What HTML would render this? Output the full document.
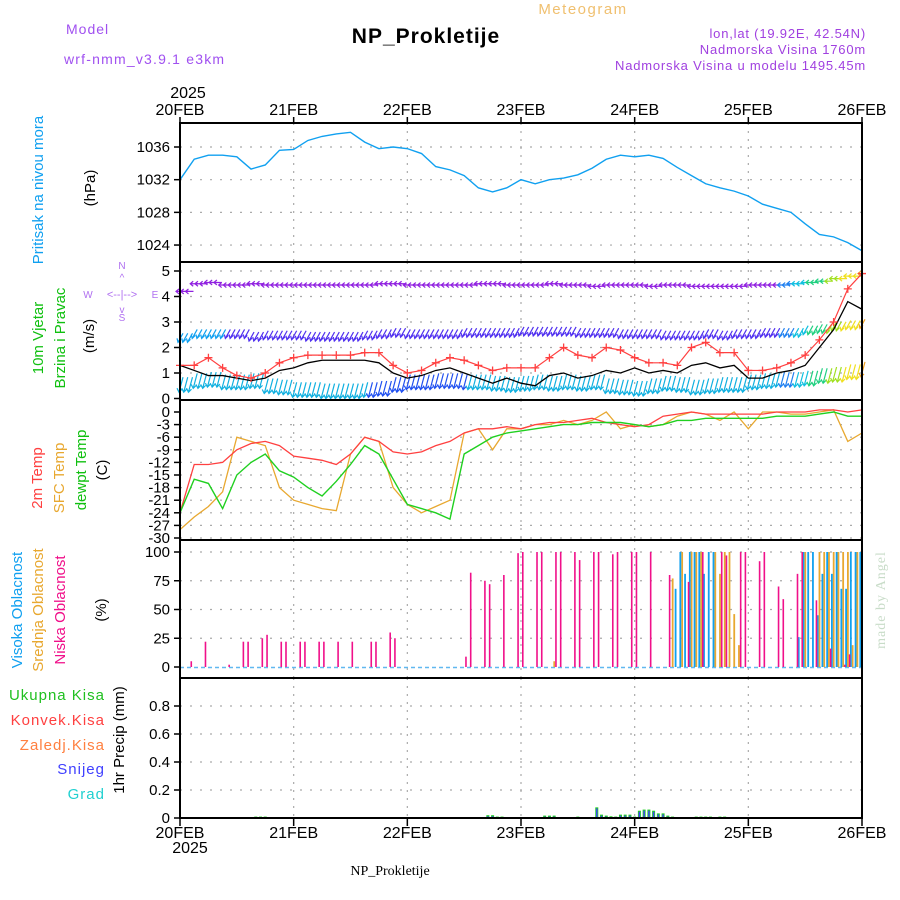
<!DOCTYPE html>
<html><head><meta charset="utf-8"><style>
body{margin:0;background:#fff;}
svg{display:block;font-family:"Liberation Sans",sans-serif;}
</style></head><body>
<svg id="chart" width="900" height="900" viewBox="0 0 900 900" xmlns="http://www.w3.org/2000/svg">
<rect x="0" y="0" width="900" height="900" fill="#fff"/>
<text x="66" y="34" font-size="14" fill="#a050f0" letter-spacing="1">Model</text>
<text x="64" y="64" font-size="14" fill="#a050f0" letter-spacing="1.2">wrf-nmm_v3.9.1 e3km</text>
<text x="426" y="43" font-size="21" font-weight="bold" text-anchor="middle" fill="#000" letter-spacing="1">NP_Prokletije</text>
<text x="583" y="14" font-size="15" text-anchor="middle" fill="#f0c070" letter-spacing="1.5">Meteogram</text>
<text x="866" y="38" font-size="13" text-anchor="end" fill="#a040e0" letter-spacing="0.8">lon,lat (19.92E, 42.54N)</text>
<text x="866" y="54" font-size="13" text-anchor="end" fill="#a040e0" letter-spacing="0.8">Nadmorska Visina 1760m</text>
<text x="866" y="70" font-size="13" text-anchor="end" fill="#a040e0" letter-spacing="0.8">Nadmorska Visina u modelu 1495.45m</text>
<text x="188" y="98" font-size="16" text-anchor="middle" fill="#000">2025</text>
<text x="190" y="853" font-size="16" text-anchor="middle" fill="#000">2025</text>
<text x="390" y="875" font-size="14" text-anchor="middle" fill="#000" font-family="Liberation Serif,serif">NP_Prokletije</text>
<text transform="translate(885,600) rotate(-90)" font-size="14" text-anchor="middle" fill="#c8dcc8" font-family="Liberation Serif,serif" letter-spacing="1">made by Angel</text>

<text transform="translate(43,190) rotate(-90)" font-size="15" text-anchor="middle" fill="#10a0f0">Pritisak na nivou mora</text>
<text transform="translate(95,188) rotate(-90)" font-size="15" text-anchor="middle" fill="#000">(hPa)</text>
<text transform="translate(43,338) rotate(-90)" font-size="15" text-anchor="middle" fill="#10c010">10m Vjetar</text>
<text transform="translate(65,338) rotate(-90)" font-size="15" text-anchor="middle" fill="#10c010">Brzina i Pravac</text>
<text transform="translate(94,336) rotate(-90)" font-size="15" text-anchor="middle" fill="#000">(m/s)</text>
<g fill="#b070f0" font-size="10">
<text x="122" y="269" text-anchor="middle">N</text><text x="122" y="321" text-anchor="middle">S</text>
<text x="88" y="298" text-anchor="middle">W</text><text x="155" y="298" text-anchor="middle">E</text>
<text x="122" y="298" text-anchor="middle" font-size="11">&lt;--|--&gt;</text>
<text x="122" y="281" text-anchor="middle">^</text><text x="122" y="313" text-anchor="middle">v</text>
</g>
<text transform="translate(42,478) rotate(-90)" font-size="15" text-anchor="middle" fill="#ff4040">2m Temp</text>
<text transform="translate(64,478) rotate(-90)" font-size="15" text-anchor="middle" fill="#e8a830">SFC Temp</text>
<text transform="translate(86,470) rotate(-90)" font-size="15" text-anchor="middle" fill="#10c010">dewpt Temp</text>
<text transform="translate(107,470) rotate(-90)" font-size="15" text-anchor="middle" fill="#000">(C)</text>
<text transform="translate(22,610) rotate(-90)" font-size="15" text-anchor="middle" fill="#10a0f0">Visoka Oblacnost</text>
<text transform="translate(43,610) rotate(-90)" font-size="15" text-anchor="middle" fill="#e8a830">Srednja Oblacnost</text>
<text transform="translate(65,610) rotate(-90)" font-size="15" text-anchor="middle" fill="#f0108a">Niska Oblacnost</text>
<text transform="translate(106,610) rotate(-90)" font-size="15" text-anchor="middle" fill="#000">(%)</text>
<g font-size="15" text-anchor="end" letter-spacing="1">
<text x="105" y="700" fill="#20c020">Ukupna Kisa</text>
<text x="105" y="725" fill="#ff4040">Konvek.Kisa</text>
<text x="105" y="750" fill="#ff8040">Zaledj.Kisa</text>
<text x="105" y="774" fill="#4040ff">Snijeg</text>
<text x="105" y="799" fill="#20d0d0">Grad</text>
</g>
<text transform="translate(124,740) rotate(-90)" font-size="15" text-anchor="middle" fill="#000">1hr Precip (mm)</text>
<g id="plot"></g>
</svg>
<script>
const days = ["20FEB","21FEB","22FEB","23FEB","24FEB","25FEB","26FEB"];
const pressure = [1032,1034.5,1035,1035,1034.8,1033.3,1033.8,1035.6,1035.7,1036.8,1037.3,1037.6,1037.8,1036.6,1035.8,1036,1035.8,1035.2,1033.6,1033.2,1032.5,1031,1030.5,1031,1032,1031.5,1032,1032.2,1032.6,1033.4,1034.5,1035,1034.8,1035,1034.6,1033.5,1032.5,1031.5,1031,1030.6,1030,1029,1028.5,1028,1026.6,1025.3,1025,1024.3,1023.3];
const windSpeed = [1.3,1.1,0.9,0.9,0.8,0.7,0.8,1.1,1.2,1.4,1.5,1.5,1.5,1.5,1.4,1.0,0.8,0.9,1.1,1.2,1.0,0.8,0.6,0.8,0.6,0.5,0.9,1.0,0.8,0.9,1.1,1.0,1.2,1.0,1.1,1.0,1.3,1.4,1.2,1.3,0.8,0.8,1.0,1.1,1.3,2.0,2.7,3.8,3.5];
const windGust = [1.3,1.3,1.6,1.2,0.9,0.8,1.0,1.4,1.6,1.7,1.7,1.7,1.7,1.8,1.8,1.3,1.0,1.1,1.4,1.6,1.5,1.3,1.1,1.2,1.2,1.2,1.6,2.0,1.7,1.6,2.0,1.9,1.6,1.4,1.4,1.3,2.0,2.2,1.8,1.8,1.1,1.1,1.2,1.4,1.7,2.3,3.0,4.3,4.9];
const barbTop = [4.2,4.5,4.55,4.45,4.45,4.5,4.45,4.45,4.45,4.45,4.45,4.45,4.45,4.45,4.5,4.5,4.45,4.45,4.45,4.45,4.45,4.5,4.5,4.45,4.45,4.45,4.5,4.45,4.45,4.4,4.45,4.45,4.45,4.4,4.45,4.45,4.4,4.4,4.4,4.4,4.45,4.45,4.45,4.5,4.55,4.6,4.7,4.8,4.9];
const barbMid = [2.4,2.55,2.55,2.55,2.55,2.45,2.5,2.5,2.5,2.45,2.45,2.45,2.45,2.5,2.55,2.6,2.55,2.55,2.55,2.55,2.6,2.6,2.6,2.6,2.65,2.65,2.65,2.65,2.6,2.6,2.6,2.55,2.55,2.55,2.5,2.5,2.5,2.55,2.5,2.55,2.55,2.6,2.6,2.6,2.7,2.75,2.85,2.9,2.95];
const barbLow = [0.6,0.75,0.8,0.7,0.7,0.75,0.55,0.5,0.4,0.4,0.35,0.35,0.35,0.4,0.45,0.6,0.7,0.7,0.75,0.75,0.7,0.7,0.65,0.6,0.65,0.7,0.65,0.7,0.65,0.7,0.55,0.5,0.45,0.55,0.65,0.6,0.5,0.55,0.6,0.6,0.7,0.75,0.8,0.8,0.85,0.95,1.0,1.1,1.2];
const temp2m = [-24,-12.5,-12.5,-12,-9,-7.5,-7,-8,-10.5,-11,-11.5,-12.5,-10,-6,-7,-9.5,-10,-9.5,-8,-7,-5,-4,-4,-3.5,-4,-3,-2.5,-2.5,-2,-1.5,-2.5,-3,-3.5,-3,-1,-0.5,0,-0.5,-0.5,-0.5,-0.5,-0.5,0,0,0,0.5,0.5,0,0.5];
const tempSfc = [-28,-25,-22.5,-19,-6,-7,-8,-18,-21,-22,-23,-23.5,-10,-6,-7,-18,-22,-24,-22.5,-21,-5,-4,-9,-4,-4,-3,-3,-2,-3,-2,0,-4,-3,-3.5,-3,-1,0,-0.5,-2,0,-4,0,0,-0.5,-0.5,0,0.5,-7,-5];
const tempDew = [-24,-16,-17,-23,-15,-12,-10,-14,-15.5,-18,-20,-16.5,-12.5,-8,-10,-16,-22,-23,-24,-25.5,-10,-8,-6,-5,-4.5,-4,-3.5,-3,-3,-2.5,-2.5,-2.5,-3,-3.5,-3,-2,-2,-1.5,-1.5,-1.5,-1.5,-1.5,-1,-1,-1,-0.5,0,-1,-1];
const cloudHigh = [[105,68],[106,100],[107,81],[108,100],[109,100],[110,100],[111,81],[112,100],[113,100],[131,26],[132,100],[133,100],[134,100],[135,45],[136,81],[137,100],[138,81],[139,100],[140,68],[141,68],[142,100],[143,100],[144,100]];
const cloudMid = [[79,5],[104,77],[106,100],[108,100],[109,100],[110,100],[113,100],[114,81],[115,100],[116,100],[117,46],[118,19],[132,100],[135,100],[136,100],[137,100],[138,100],[139,100],[140,100],[141,100],[142,19],[143,100]];
const cloudLow = [[2,5],[5,22],[10,2],[13,22],[14,22],[17,25],[18,28],[21,22],[22,22],[25,22],[26,22],[29,22],[30,22],[33,22],[36,22],[40,22],[41,22],[44,30],[45,25],[60,9],[61,82],[64,75],[65,72],[68,80],[71,99],[72,100],[75,100],[76,100],[79,100],[80,100],[83,100],[84,93],[87,100],[88,100],[91,98],[92,100],[95,100],[96,100],[99,100],[103,80],[107,74],[110,100],[114,100],[115,97],[118,100],[119,100],[122,92],[123,100],[126,70],[127,59],[130,81],[131,100],[134,58],[137,16],[140,2],[141,11]];
const precipTotal = [[16,0.01],[17,0.01],[18,0.01],[65,0.02],[66,0.02],[67,0.01],[68,0.01],[77,0.017],[78,0.017],[79,0.017],[84,0.01],[88,0.076],[89,0.024],[90,0.017],[91,0.012],[92,0.01],[93,0.024],[94,0.024],[95,0.024],[96,0.01],[97,0.052],[98,0.06],[99,0.06],[100,0.052],[101,0.033],[102,0.033],[103,0.017],[104,0.01],[109,0.01],[110,0.01],[111,0.01],[112,0.01],[114,0.01],[115,0.01]];
const pTicks=[1024,1028,1032,1036], wTicks=[0,1,2,3,4,5], tTicks=[0,-3,-6,-9,-12,-15,-18,-21,-24,-27,-30], cTicks=[0,25,50,75,100], rTicks=[0,0.2,0.4,0.6,0.8];

const NS="http://www.w3.org/2000/svg", g=document.getElementById('plot');
const X0=180,X1=862;
const xh=h=>X0+h*(X1-X0)/144;
const yP=v=>147+(1036-v)*8.17, yW=v=>398.5-v*25.5, yT=v=>412-v*4.2, yC=v=>667-v*1.15, yR=v=>818-v*140;
function el(t,a,p){const e=document.createElementNS(NS,t);for(const k in a)e.setAttribute(k,a[k]);(p||g).appendChild(e);return e;}
function txt(x,y,s,a){const e=el('text',Object.assign({x:x,y:y,'font-size':15,fill:'#000'},a||{}));e.textContent=s;return e;}
const panels=[[123,262,pTicks,yP,v=>v],[262,400,wTicks,yW,v=>v],[400,540,tTicks,yT,v=>v],[540,678,cTicks,yC,v=>v],[678,818,rTicks,yR,v=>v===0?'0':v.toFixed(1)]];
panels.forEach((p,i)=>{
  p[2].forEach(v=>{const y=p[3](v);
    if(v!==p[2][0]||i===0){const gl=el('line',{x1:X0,x2:X1,y1:y,y2:y,stroke:'#aaa','stroke-dasharray':'2,8','stroke-width':1.2});}
    el('line',{x1:X0-6,x2:X0,y1:y,y2:y,stroke:'#000','stroke-width':1.5});
    const t=txt(X0-10,y+5,p[4](v),{'text-anchor':'end'});
  });
  for(let d=1;d<6;d++){const x=X0+d*(X1-X0)/6;el('line',{x1:x,x2:x,y1:p[0],y2:p[1],stroke:'#aaa','stroke-dasharray':'2,6','stroke-width':1.2});}
});
// data
function line(arr,yf,col,w,name){const pts=arr.map((v,i)=>xh(i*3)+','+yf(v)).join(' ');const e=el('polyline',{points:pts,fill:'none',stroke:col,'stroke-width':w||1.3});return e;}
line(pressure,yP,'#10a0f0',1.4,'pressure-line');
// barbs
function barbColor(row,h){if(h>126){const c=['#2080f0','#10c0e0','#20d080','#a0e020','#f0e020','#f0a020'];return c[Math.min(5,Math.floor((h-126)/3.5))];}
 return row===0?'#9020e0':row===1?(h<10?'#10a0f0':'#5030f0'):(h<40||h>60?'#10b0e0':'#2050f0');}
[[barbTop,0],[barbMid,1],[barbLow,2]].forEach(([arr,row])=>{
  arr.forEach((v,i)=>{for(let k=0;k<3;k++){const h=i*3+k;if(h>144)break;const x=xh(h),y=yW(v);const c=barbColor(row,h);
    let d;
    if(row===0)d=`M${x+4},${y} L${x-4},${y} M${x-1},${y-2.5} L${x-4},${y} L${x-1},${y+2.5}`;
    else if(row===1)d=`M${x+3},${y-4} L${x-2},${y+5} M${x-3},${y+1} L${x-2},${y+5} L${x+1},${y+2}`;
    else d=`M${x+3},${y-6} L${x-1},${y+9} M${x-3},${y+5} L${x-1},${y+9} L${x+2},${y+6}`;
    const b=el('path',{d:d,stroke:c,'stroke-width':1.2,fill:'none'});
    
    
  }});
});
line(windSpeed,yW,'#000',1.3,'wind-speed-line');
line(windGust,yW,'#ff4040',1.2,'wind-gust-line');
windGust.forEach((v,i)=>{const x=xh(i*3),y=yW(v);const m=el('path',{d:`M${x-4},${y}H${x+4}M${x},${y-4}V${y+4}`,stroke:'#ff4040','stroke-width':1.3});});
line(tempSfc,yT,'#e8a830',1.3,'sfc-temp-line');
line(temp2m,yT,'#ff4040',1.3,'temp-2m-line');
line(tempDew,yT,'#20d020',1.4,'dewpoint-line');
// clouds
el('line',{x1:X0,x2:X1,y1:yC(0)+0.5,y2:yC(0)+0.5,stroke:'#60b8f0','stroke-width':1.5,'stroke-dasharray':'4,3'});
function bars(arr,col,off,w,name){arr.forEach(([h,v])=>{const r=el('rect',{x:xh(h)+off,y:yC(v),width:w,height:yC(0)-yC(v),fill:col});});}
bars(cloudMid,'#e8a830',-0.8,1.8,'cloud-mid-bar');
bars(cloudHigh,'#10a0f0',-2.6,1.8,'cloud-high-bar');
bars(cloudLow,'#f0108a',1.0,1.6,'cloud-low-bar');
// precip
precipTotal.forEach(([h,v])=>{const x=xh(h);const r=el('rect',{x:x-1.5,y:yR(v),width:3,height:yR(0)-yR(v),fill:'#20d020'});
 const s=el('rect',{x:x-0.7,y:yR(v)+1,width:1.4,height:Math.max(0,yR(0)-yR(v)-1),fill:'#4040ff'});});
// frames
[[123,262],[262,400],[400,540],[540,678],[678,818]].forEach(([a,b])=>{const r=el('rect',{x:X0,y:a,width:X1-X0,height:b-a,fill:'none',stroke:'#000','stroke-width':2});});
days.forEach((d,i)=>{const x=X0+i*(X1-X0)/6;
 el('line',{x1:x,x2:x,y1:117,y2:123,stroke:'#000','stroke-width':1.5});
 el('line',{x1:x,x2:x,y1:818,y2:826,stroke:'#000','stroke-width':1.5});
 const t=txt(x,115,d,{'text-anchor':'middle','font-size':16});
 const b=txt(x,838,d,{'text-anchor':'middle','font-size':16});
});
</script>
</body></html>
